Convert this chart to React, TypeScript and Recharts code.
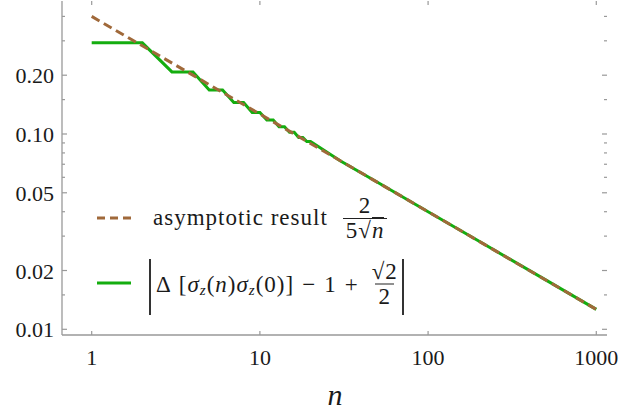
import React from "react";
import { LineChart, Line, XAxis, YAxis, Legend } from "recharts";

// exact correlation (green, steps in pairs at small n)
const exactN = [1, 2, 3, 4, 5, 6, 7, 8, 9, 10, 11, 12, 13, 14, 15, 16, 17, 18, 19, 20, 30, 50, 100, 200, 500, 1000];
const exactValues = [
  0.293, 0.293, 0.208, 0.208, 0.168, 0.168, 0.145, 0.145, 0.129, 0.129, 0.118, 0.118, 0.109, 0.109,
  0.102, 0.102, 0.096, 0.096, 0.0915, 0.0915, 0.073, 0.0566, 0.04, 0.0283, 0.0179, 0.01265,
];
// asymptotic result (brown dashed, a straight line on log-log)
const asymN = [1, 10, 100, 1000];
const asymValues = [0.4, 0.1265, 0.04, 0.01265];

const xTicks = [1, 10, 100, 1000];
const xTickLabels = ["1", "10", "100", "1000"];
const yMajorTicks = [0.01, 0.02, 0.05, 0.1, 0.2];
const yTickLabels = ["0.01", "0.02", "0.05", "0.10", "0.20"];
const yMinorTicks = [0.015, 0.03, 0.04, 0.06, 0.07, 0.08, 0.09, 0.15, 0.3, 0.4];

const exactData = exactN.map((n, i) => ({ n, v: exactValues[i] }));
const asymData = asymN.map((n, i) => ({ n, v: asymValues[i] }));

const W = 621;
const H = 418;
const LEFT = 62;
const RIGHT = 607;
const TOP = 1;
const BOTTOM = 335;

const BROWN = "#a0693a";
const GREEN = "#14ad0f";
const FRAME = "#999";
const FONT = "Times New Roman, Liberation Serif, DejaVu Serif, serif";

function YTick(props: any) {
  const { y, payload } = props;
  const idx = yMajorTicks.indexOf(payload.value);
  const len = idx >= 0 ? 5 : 3;
  return (
    <g>
      <line x1={LEFT} x2={LEFT + len} y1={y} y2={y} stroke={FRAME} strokeWidth={1.2} />
      <line x1={RIGHT} x2={RIGHT - len} y1={y} y2={y} stroke={FRAME} strokeWidth={1.2} />
      {idx >= 0 && (
        <text x={LEFT - 8} y={y + 8} textAnchor="end" style={{ fontFamily: FONT }} fontSize={22} fill="#1a1a1a">
          {yTickLabels[idx]}
        </text>
      )}
    </g>
  );
}

function XTick(props: any) {
  const { x, payload } = props;
  const idx = xTicks.indexOf(payload.value);
  return (
    <g>
      <line x1={x} x2={x} y1={BOTTOM} y2={BOTTOM - 4} stroke={FRAME} strokeWidth={1.2} />
      <line x1={x} x2={x} y1={TOP} y2={TOP + 4} stroke={FRAME} strokeWidth={1.2} />
      <text x={x} y={365} textAnchor="middle" style={{ fontFamily: FONT }} fontSize={22} fill="#1a1a1a">
        {xTickLabels[idx]}
      </text>
    </g>
  );
}

const Frac = ({ num, den }: { num: React.ReactNode; den: React.ReactNode }) => (
  <span
    style={{
      display: "inline-flex",
      flexDirection: "column",
      alignItems: "center",
      lineHeight: "24px",
      margin: "0 3px",
    }}
  >
    <span style={{ padding: "0 2px" }}>{num}</span>
    <span style={{ borderTop: "1.3px solid #222", padding: "0 3px" }}>{den}</span>
  </span>
);

const Sub = ({ children }: { children: React.ReactNode }) => (
  <span style={{ fontSize: 15, fontStyle: "italic", position: "relative", top: 6 }}>{children}</span>
);

function LegendBox() {
  const text: React.CSSProperties = {
    position: "absolute",
    display: "flex",
    alignItems: "center",
    whiteSpace: "nowrap",
    fontFamily: FONT,
    fontSize: 23,
    letterSpacing: 1,
    color: "#1a1a1a",
    transform: "translateY(-50%)",
  };
  return (
    <div style={{ position: "relative", width: W, height: 0 }}>
      <svg width={36} height={4} style={{ position: "absolute", left: 97, top: 216 }}>
        <line x1={0} y1={2} x2={36} y2={2} stroke={BROWN} strokeWidth={3} strokeDasharray="8 5" />
      </svg>
      <div style={{ ...text, left: 153, top: 218 }}>
        <span>asymptotic result</span>
        <span style={{ marginLeft: 12 }}>
          <Frac
            num="2"
            den={
              <span>
                5√<span style={{ fontStyle: "italic", borderTop: "1.3px solid #222" }}>n</span>
              </span>
            }
          />
        </span>
      </div>

      <svg width={34} height={4} style={{ position: "absolute", left: 97, top: 281 }}>
        <line x1={0} y1={2} x2={34} y2={2} stroke={GREEN} strokeWidth={3} />
      </svg>
      <div style={{ position: "absolute", left: 149, top: 259, width: 1.5, height: 56, background: "#333" }} />
      <div style={{ position: "absolute", left: 402, top: 259, width: 1.5, height: 56, background: "#333" }} />
      <div style={{ ...text, left: 156, top: 284 }}>
        <span>Δ</span>
        <span style={{ marginLeft: 7 }}>[</span>
        <i>σ</i>
        <Sub>z</Sub>
        <span>(</span>
        <i>n</i>
        <span>)</span>
        <i>σ</i>
        <Sub>z</Sub>
        <span>(0)]</span>
        <span style={{ margin: "0 8px" }}>−</span>
        <span>1</span>
        <span style={{ margin: "0 8px" }}>+</span>
        <Frac num="√2" den="2" />
      </div>
    </div>
  );
}

export default function App() {
  return (
    <div style={{ position: "absolute", left: 0, top: 0, width: W, height: H, background: "#fff", fontFamily: FONT }}>
      <LineChart width={W} height={H} margin={{ top: TOP, right: W - RIGHT, bottom: 0, left: 0 }}>
        <XAxis
          dataKey="n"
          type="number"
          scale="log"
          domain={[0.666, 1158]}
          allowDataOverflow
          ticks={xTicks}
          interval={0}
          tick={(p: any) => <XTick {...p} />}
          tickLine={false}
          axisLine={{ stroke: FRAME, strokeWidth: 1.3 }}
          height={H - BOTTOM}
          label={{
            content: () => (
              <text x={335} y={405} textAnchor="middle" style={{ fontFamily: FONT, fontStyle: "italic" }} fontSize={30} fill="#1a1a1a">
                n
              </text>
            ),
          }}
        />
        <XAxis
          xAxisId="top"
          orientation="top"
          dataKey="n"
          type="number"
          scale="log"
          domain={[0.666, 1158]}
          allowDataOverflow
          tick={false}
          tickLine={false}
          axisLine={{ stroke: FRAME, strokeWidth: 1.3 }}
          height={0}
        />
        <YAxis
          type="number"
          scale="log"
          domain={[0.00935, 0.4797]}
          allowDataOverflow
          ticks={[...yMajorTicks, ...yMinorTicks]}
          interval={0}
          tick={(p: any) => <YTick {...p} />}
          tickLine={false}
          axisLine={{ stroke: FRAME, strokeWidth: 1.3 }}
          width={LEFT}
        />
        <YAxis
          yAxisId="right"
          orientation="right"
          type="number"
          scale="log"
          domain={[0.00935, 0.4797]}
          allowDataOverflow
          tick={false}
          tickLine={false}
          axisLine={{ stroke: FRAME, strokeWidth: 1.3 }}
          width={0}
        />
        <Legend
          layout="horizontal"
          align="center"
          verticalAlign="middle"
          wrapperStyle={{ left: 0, top: 0, width: W, height: 0 }}
          content={() => <LegendBox />}
        />
        <Line
          data={exactData}
          dataKey="v"
          stroke={GREEN}
          strokeWidth={3}
          dot={false}
          isAnimationActive={false}
        />
        <Line
          data={asymData}
          dataKey="v"
          stroke={BROWN}
          strokeWidth={3}
          strokeDasharray="9 5"
          dot={false}
          isAnimationActive={false}
        />
      </LineChart>
    </div>
  );
}
